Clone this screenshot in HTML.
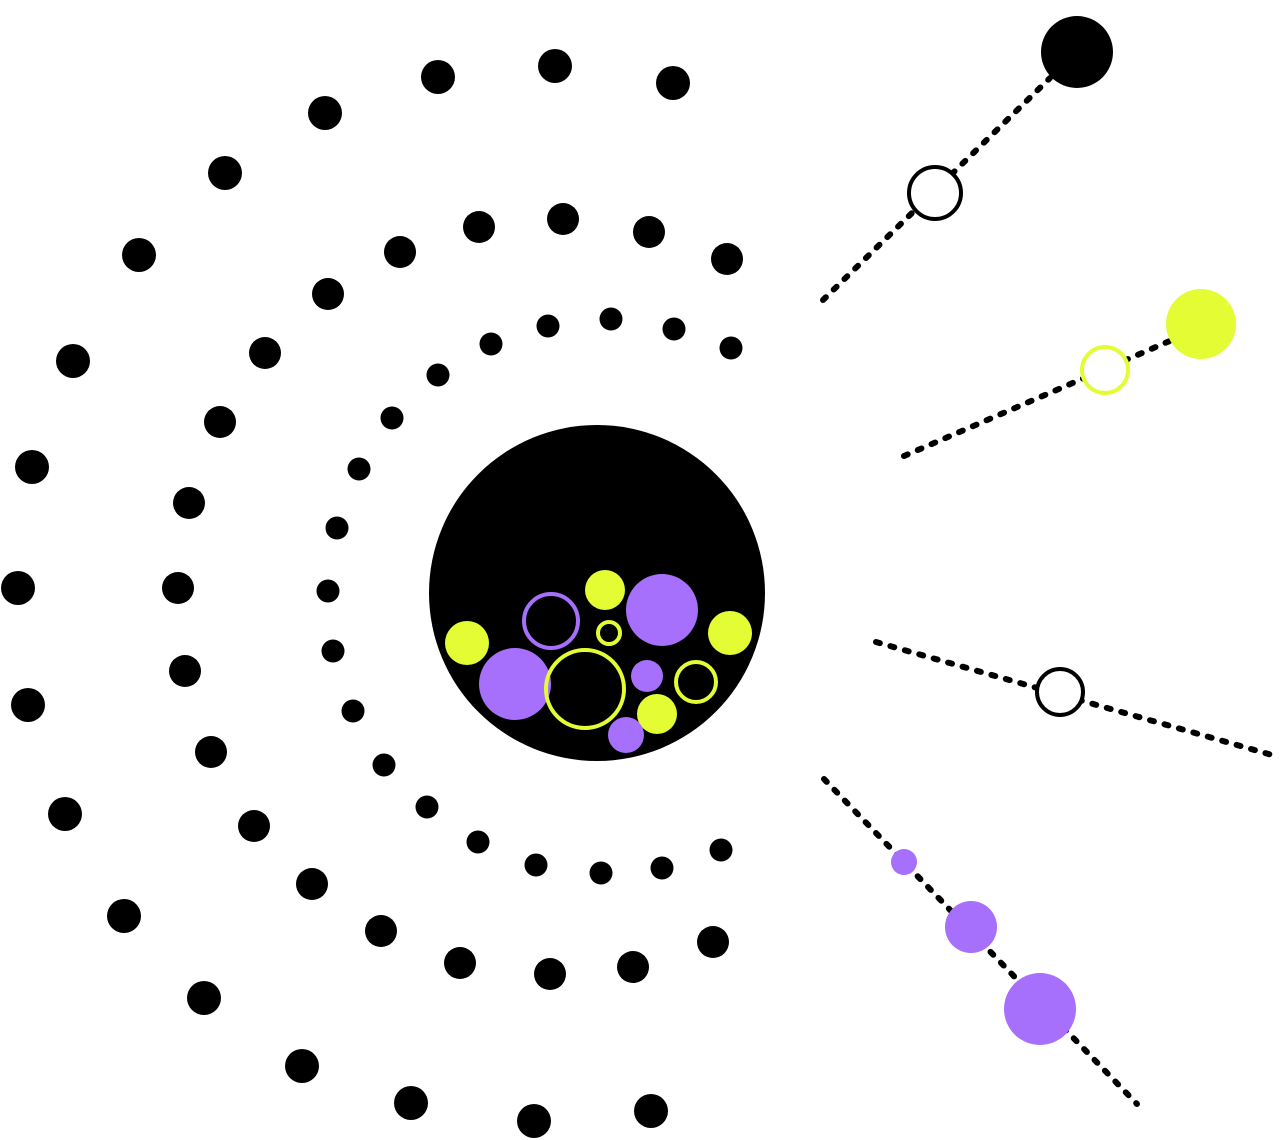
<!DOCTYPE html>
<html><head><meta charset="utf-8"><style>html,body{margin:0;padding:0;background:#fff}svg{display:block}</style></head>
<body>
<svg width="1280" height="1140" viewBox="0 0 1280 1140" xmlns="http://www.w3.org/2000/svg">
<g fill="#000">
<circle cx="673" cy="83" r="17"/><circle cx="555" cy="66" r="17"/><circle cx="438" cy="77" r="17"/><circle cx="325" cy="113" r="17"/><circle cx="225" cy="173" r="17"/><circle cx="139" cy="255" r="17"/><circle cx="73" cy="361" r="17"/><circle cx="32" cy="467" r="17"/><circle cx="18" cy="588" r="17"/><circle cx="28" cy="705" r="17"/><circle cx="65" cy="814" r="17"/><circle cx="124" cy="916" r="17"/><circle cx="204" cy="998" r="17"/><circle cx="302" cy="1066" r="17"/><circle cx="411" cy="1103" r="17"/><circle cx="534" cy="1121" r="17"/><circle cx="651" cy="1111" r="17"/>
<circle cx="727" cy="259" r="16"/><circle cx="649" cy="232" r="16"/><circle cx="563" cy="219" r="16"/><circle cx="479" cy="227" r="16"/><circle cx="400" cy="252" r="16"/><circle cx="328" cy="294" r="16"/><circle cx="265" cy="353" r="16"/><circle cx="220" cy="422" r="16"/><circle cx="189" cy="503" r="16"/><circle cx="178" cy="588" r="16"/><circle cx="185" cy="671" r="16"/><circle cx="211" cy="752" r="16"/><circle cx="254" cy="826" r="16"/><circle cx="312" cy="884" r="16"/><circle cx="381" cy="931" r="16"/><circle cx="460" cy="963" r="16"/><circle cx="550" cy="974" r="16"/><circle cx="633" cy="967" r="16"/><circle cx="713" cy="942" r="16"/>
<circle cx="731" cy="348" r="11.5"/><circle cx="674" cy="329" r="11.5"/><circle cx="611" cy="319" r="11.5"/><circle cx="548" cy="326" r="11.5"/><circle cx="491" cy="344" r="11.5"/><circle cx="438" cy="375" r="11.5"/><circle cx="392" cy="418" r="11.5"/><circle cx="359" cy="469" r="11.5"/><circle cx="337" cy="528" r="11.5"/><circle cx="328" cy="591" r="11.5"/><circle cx="333" cy="651" r="11.5"/><circle cx="353" cy="711" r="11.5"/><circle cx="384" cy="765" r="11.5"/><circle cx="427" cy="807" r="11.5"/><circle cx="478" cy="842" r="11.5"/><circle cx="536" cy="865" r="11.5"/><circle cx="601" cy="873" r="11.5"/><circle cx="662" cy="868" r="11.5"/><circle cx="721" cy="850" r="11.5"/>
<circle cx="597" cy="593" r="168"/>
</g>
<g fill="#e3fc34">
<circle cx="467" cy="643" r="22"/><circle cx="605" cy="590" r="20"/><circle cx="730" cy="633" r="22"/><circle cx="657" cy="714" r="20"/>
</g>
<g fill="#a66ffc">
<circle cx="515" cy="684" r="36"/><circle cx="662" cy="610" r="36"/><circle cx="647" cy="676" r="16"/><circle cx="626" cy="735" r="18"/>
</g>
<circle cx="551" cy="621" r="27" fill="none" stroke="#a66ffc" stroke-width="4"/>
<circle cx="609" cy="633" r="11" fill="none" stroke="#e3fc34" stroke-width="4"/>
<circle cx="585" cy="689" r="39" fill="none" stroke="#e3fc34" stroke-width="4"/>
<circle cx="696" cy="682" r="20" fill="none" stroke="#e3fc34" stroke-width="4"/>
<g stroke="#000" stroke-width="6" stroke-linecap="round" stroke-dasharray="4 11" fill="none">
<line x1="823" y1="300" x2="1050" y2="78"/>
<line x1="904" y1="456" x2="1172" y2="340"/>
<line x1="876" y1="642" x2="1272" y2="755"/>
<line x1="824" y1="779" x2="1137" y2="1104"/>
</g>
<circle cx="1077" cy="52" r="36" fill="#000"/>
<circle cx="935" cy="193" r="26" fill="#fff" stroke="#000" stroke-width="4"/>
<circle cx="1201" cy="324" r="35" fill="#e3fc34"/>
<circle cx="1105" cy="370" r="23" fill="#fff" stroke="#e3fc34" stroke-width="4"/>
<circle cx="1060" cy="692" r="23" fill="#fff" stroke="#000" stroke-width="4"/>
<g fill="#a66ffc">
<circle cx="904" cy="862" r="13"/><circle cx="971" cy="927" r="26"/><circle cx="1040" cy="1009" r="36"/>
</g>
</svg>
</body></html>
